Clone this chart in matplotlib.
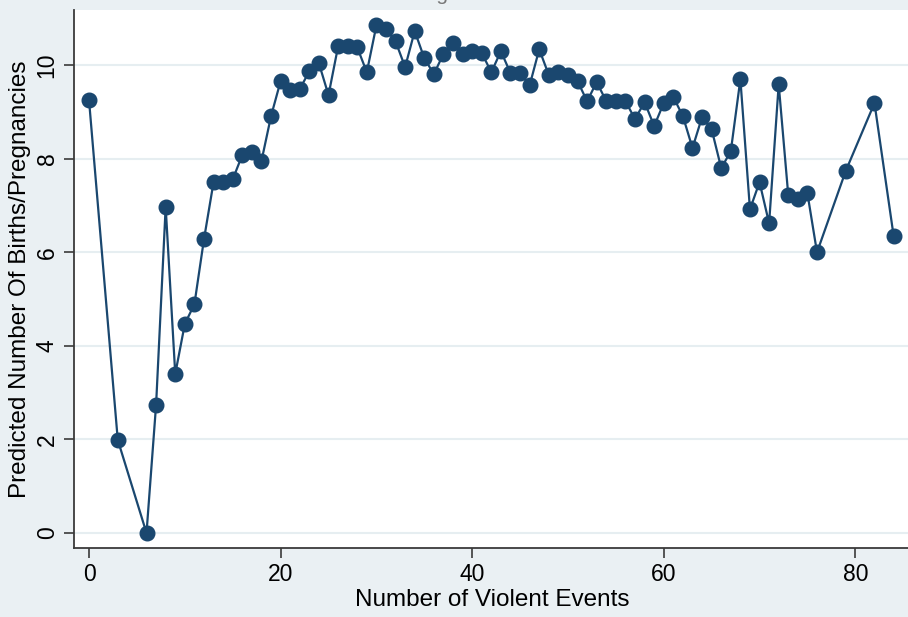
import numpy as np
import matplotlib.pyplot as plt

plt.rcParams['font.family'] = ['Liberation Sans', 'DejaVu Sans']

# Количество насильственных событий и предсказанное число рождений
events = [0, 3, 6, 7, 8, 9, 10, 11, 12, 13, 14, 15, 16, 17, 18, 19, 20, 21, 22,
          23, 24, 25, 26, 27, 28, 29, 30, 31, 32, 33, 34, 35, 36, 37, 38, 39, 40,
          41, 42, 43, 44, 45, 46, 47, 48, 49, 50, 51, 52, 53, 54, 55, 56, 57, 58,
          59, 60, 61, 62, 63, 64, 65, 66, 67, 68, 69, 70, 71, 72, 73, 74, 75, 76,
          79, 82, 84]
births = [9.25, 1.99, 0.0, 2.74, 6.97, 3.40, 4.47, 4.89, 6.28, 7.50, 7.50, 7.56,
          8.08, 8.14, 7.95, 8.91, 9.66, 9.47, 9.49, 9.87, 10.04, 9.36, 10.40, 10.40,
          10.38, 9.85, 10.85, 10.77, 10.51, 9.96, 10.73, 10.15, 9.81, 10.24, 10.47,
          10.24, 10.30, 10.26, 9.85, 10.30, 9.83, 9.83, 9.57, 10.34, 9.79, 9.85,
          9.79, 9.66, 9.23, 9.64, 9.23, 9.23, 9.23, 8.85, 9.21, 8.70, 9.19, 9.32,
          8.91, 8.23, 8.89, 8.63, 7.80, 8.16, 9.70, 6.92, 7.50, 6.62, 9.59, 7.22,
          7.14, 7.26, 6.00, 7.74, 9.19, 6.35]
xticks = [0, 20, 40, 60, 80]
yticks = [0, 2, 4, 6, 8, 10]

navy = '#1a476f'
fig = plt.figure(figsize=(9.08, 6.17), dpi=100)
fig.patch.set_facecolor('#eaf0f3')
ax = fig.add_axes([74 / 908, 69 / 617, 834 / 908, 538 / 617])
ax.set_facecolor('white')

ax.plot(events, births, color=navy, lw=1.6, marker='o', markersize=10.5,
        markeredgecolor=navy, markerfacecolor=navy, zorder=3)

ax.set_xlim(-1.57, 85.5)
ax.set_ylim(-0.32, 11.18)
ax.set_xticks(xticks)
ax.set_yticks(yticks)
ax.grid(axis='y', color='#e6eef1', lw=1.5)
ax.set_axisbelow(True)

for s in ['top', 'right']:
    ax.spines[s].set_visible(False)
for s in ['left', 'bottom']:
    ax.spines[s].set_color('#3a3a3a')
    ax.spines[s].set_linewidth(1.3)
ax.tick_params(direction='out', length=7, width=1.2, color='#3a3a3a',
               labelsize=16.5, pad=4)
plt.setp(ax.get_yticklabels(), rotation=90, va='center')

ax.set_xlabel('Number of Violent Events', fontsize=17.5, va='center')
ax.xaxis.set_label_coords(0.501, -0.097)
ax.set_ylabel('Predicted Number Of Births/Pregnancies', fontsize=17.5, va='center')
ax.yaxis.set_label_coords(-0.065, 0.5)

# заголовок обрезан сверху, как на оригинале
fig.text(457 / 908, 1 - 0.5 / 617, 'Figure 6', ha='center', va='baseline',
         fontsize=15, color='#777777')

fig.savefig('out.png', dpi=100, facecolor=fig.get_facecolor())
